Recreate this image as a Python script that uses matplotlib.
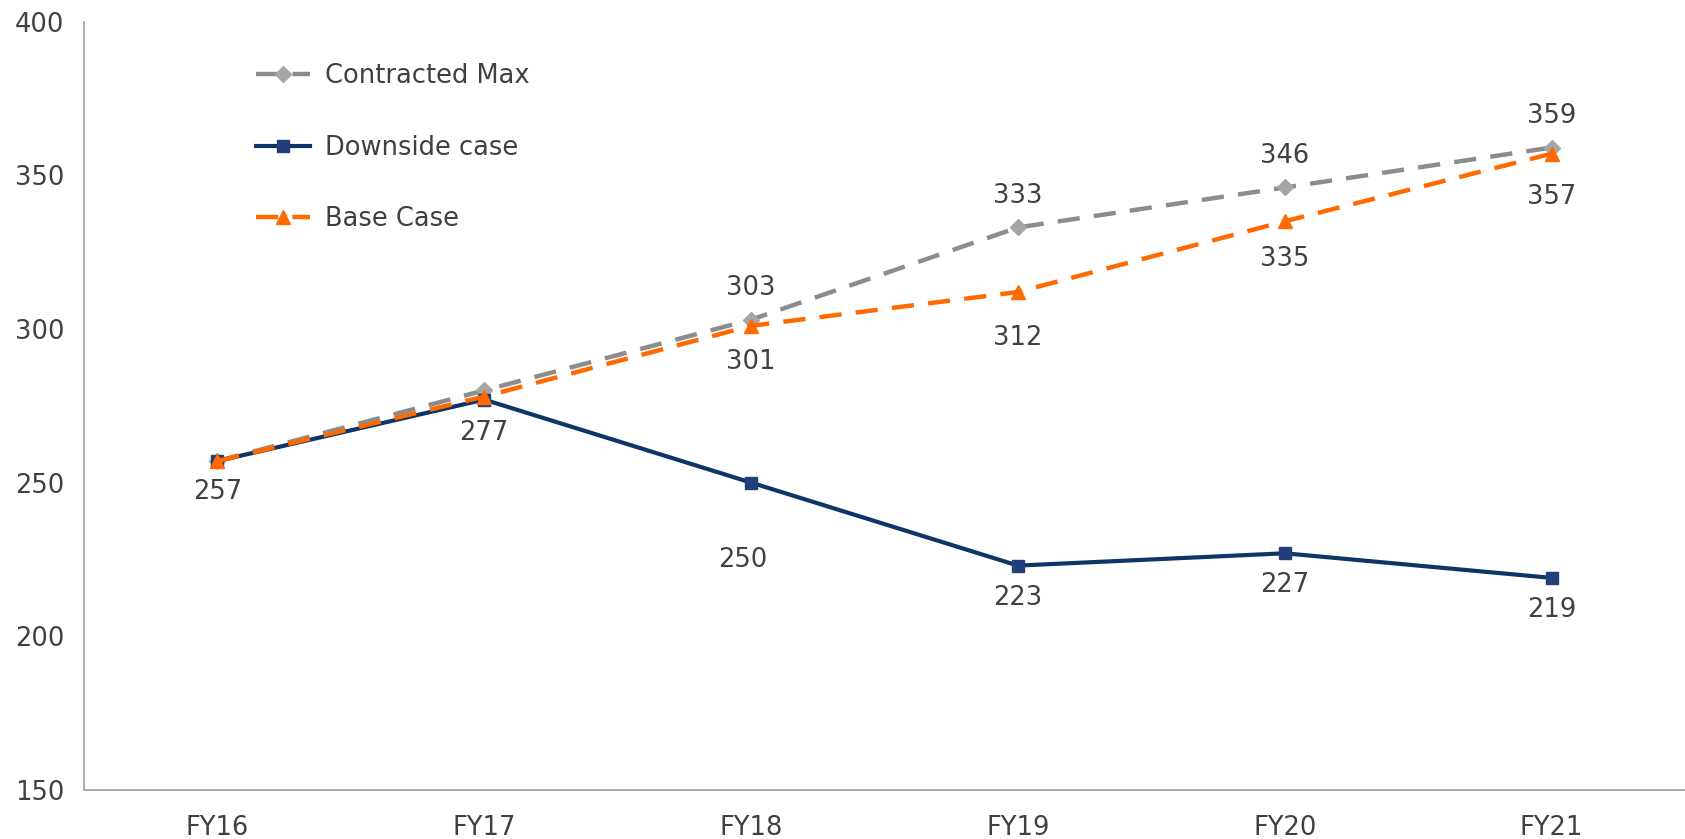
import matplotlib
matplotlib.use("Agg")
import matplotlib.pyplot as plt

categories = ["FY16", "FY17", "FY18", "FY19", "FY20", "FY21"]
contracted_max = [257, 280, 303, 333, 346, 359]
downside_case = [257, 277, 250, 223, 227, 219]
base_case = [257, 278, 301, 312, 335, 357]
y_ticks = [150, 200, 250, 300, 350, 400]

plt.rcParams['font.family'] = ['DejaVu Sans']
text_color = '#404040'
fs = 18.5

fig = plt.figure(figsize=(16.85, 8.39), dpi=100)
ax = fig.add_axes([84 / 1685, 49 / 839, 1 - 84 / 1685, (790 - 21.5) / 839])

x = list(range(len(categories)))

ax.plot(x, contracted_max, color='#8C8C8C', lw=3.2, dashes=(5, 3.2),
        marker='D', markersize=8, markerfacecolor='#A6A6A6', markeredgecolor='#A6A6A6',
        label='Contracted Max', zorder=3)
ax.plot(x, downside_case, color='#0F3466', lw=3.0,
        marker='s', markersize=8.5, markerfacecolor='#213F7A', markeredgecolor='#213F7A',
        label='Downside case', zorder=4)
ax.plot(x, base_case, color='#FF6A00', lw=3.2, dashes=(5, 3.2),
        marker='^', markersize=10, markerfacecolor='#FF6A00', markeredgecolor='#FF6A00',
        label='Base Case', zorder=5)

# data label offsets (points), Excel-like placement
base_label_dy = [0, 0, -26, -33, -27, -31]
down_label_dy = [-22, -24, -56, -23, -23, -23]
down_label_dx = [0, 0, -6, 0, 0, 0]

for i in range(2, len(x)):
    ax.annotate(str(contracted_max[i]), (x[i], contracted_max[i]), xytext=(0, 23),
                textcoords='offset points', ha='center', va='center', fontsize=fs, color=text_color)
    ax.annotate(str(base_case[i]), (x[i], base_case[i]), xytext=(0, base_label_dy[i]),
                textcoords='offset points', ha='center', va='center', fontsize=fs, color=text_color)
for i in range(len(x)):
    ax.annotate(str(downside_case[i]), (x[i], downside_case[i]),
                xytext=(down_label_dx[i], down_label_dy[i]),
                textcoords='offset points', ha='center', va='center', fontsize=fs, color=text_color)

ax.set_xlim(-0.5, 5.5)
ax.set_ylim(150, 400)
ax.set_xticks(x)
ax.set_xticklabels(categories)
ax.set_yticks(y_ticks)
ax.tick_params(axis='both', length=0, labelsize=fs, labelcolor=text_color)
ax.tick_params(axis='y', pad=14)
ax.tick_params(axis='x', pad=18)

for s in ['top', 'right']:
    ax.spines[s].set_visible(False)
for s in ['left', 'bottom']:
    ax.spines[s].set_color('#A6A6A6')
    ax.spines[s].set_linewidth(1.3)

leg = ax.legend(loc='upper left', bbox_to_anchor=(0.1074, 0.946), frameon=False,
                fontsize=fs, handlelength=2.1, handletextpad=0.6, labelspacing=1.78,
                borderpad=0, borderaxespad=0, numpoints=1)
for t in leg.get_texts():
    t.set_color(text_color)

fig.savefig('out.png', dpi=100)
